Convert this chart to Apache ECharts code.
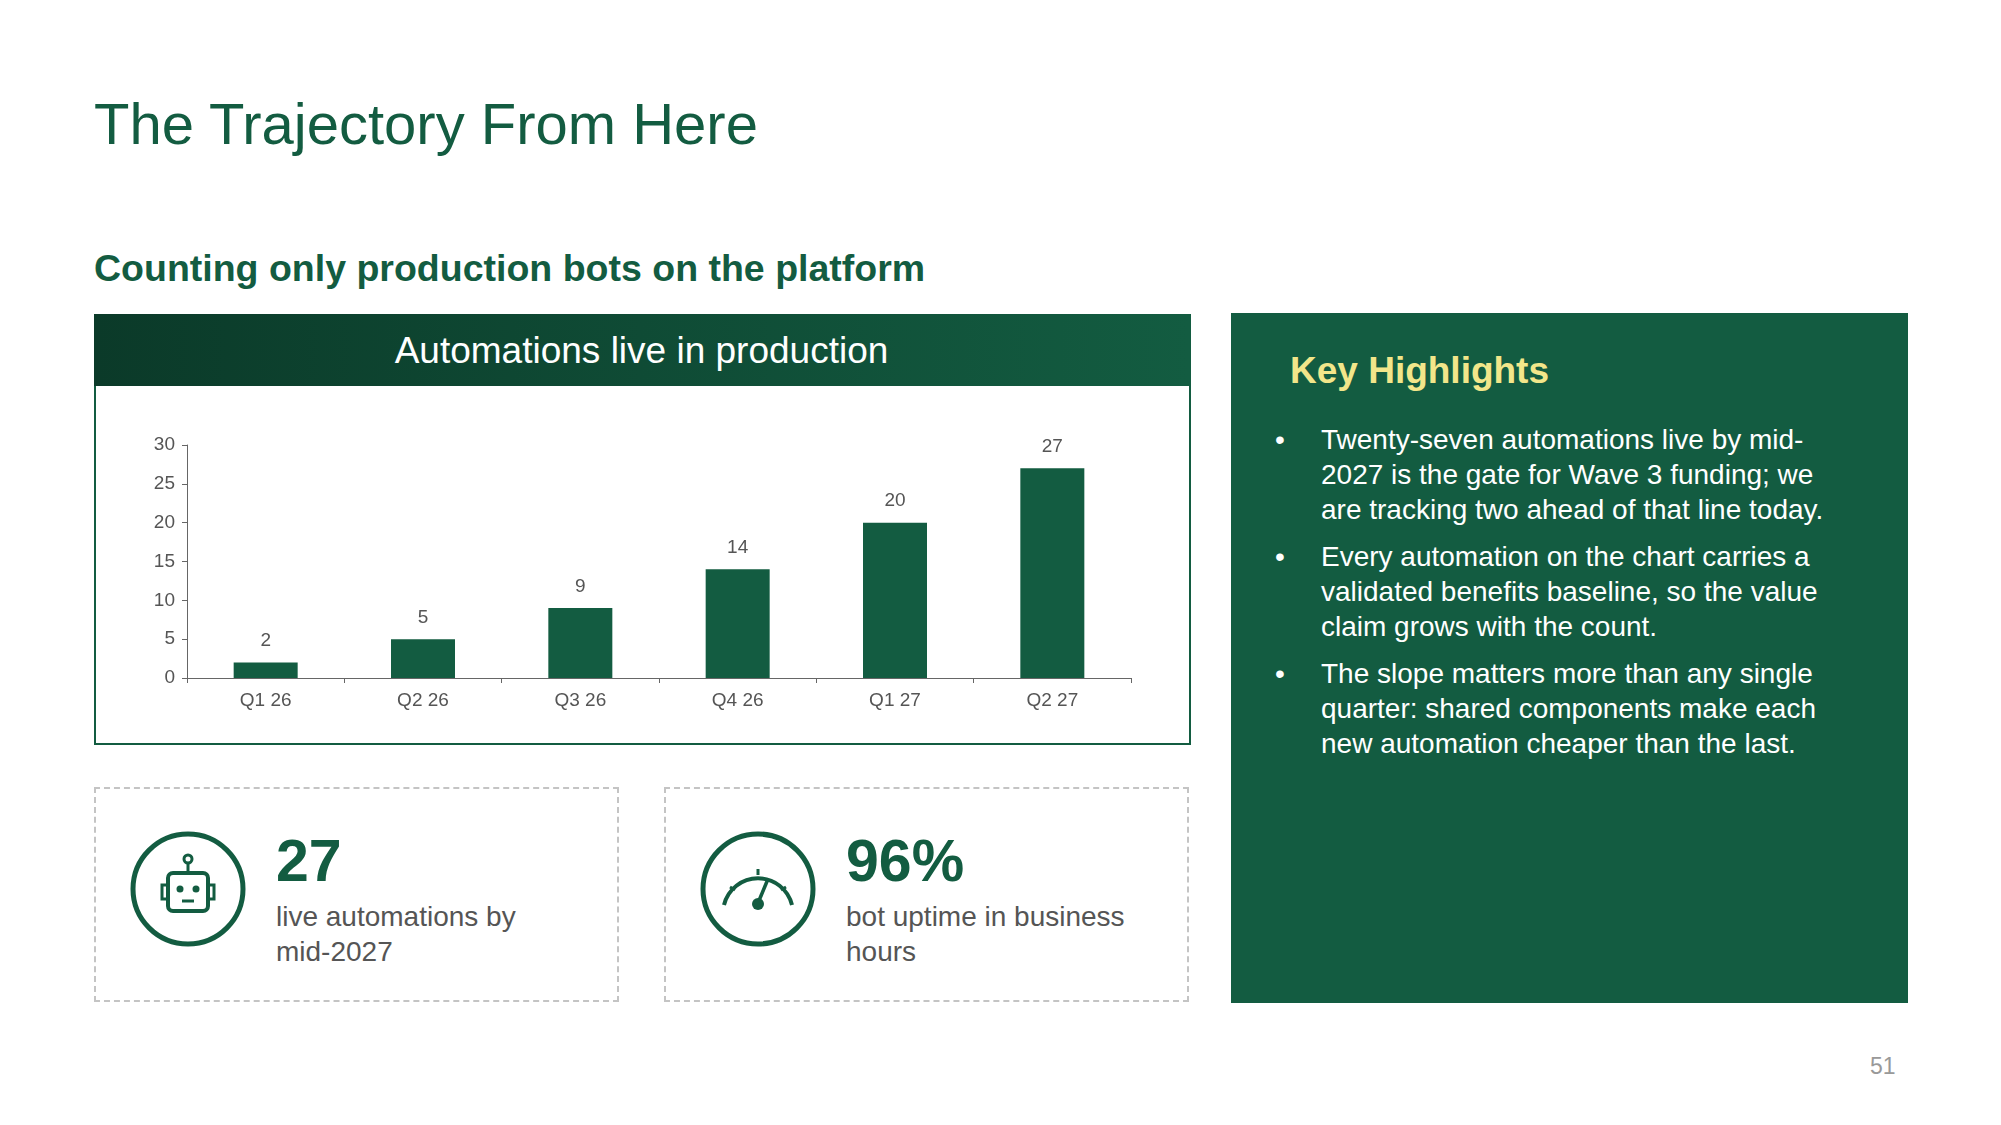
<!DOCTYPE html>
<html><head><meta charset="utf-8">
<script src="https://cdn.jsdelivr.net/npm/echarts@6/dist/echarts.min.js"></script>
<style>
body{margin:0;width:2001px;height:1125px;background:#fff;font-family:"Liberation Sans",Arial,sans-serif;position:relative;overflow:hidden}
.a{position:absolute}
#title{left:94px;top:90px;font-size:58px;color:#135c41}
#sub{left:94px;top:247px;font-size:37.5px;font-weight:bold;color:#135c41}
#box{left:94px;top:314px;width:1093px;height:429px;border:2px solid #135c41;border-top:none}
#hdr{left:94px;top:314px;width:1095px;height:72px;background:linear-gradient(90deg,#0b3a29,#135c41);color:#fff;font-size:37px;text-align:center;line-height:74px}
#chart{left:94px;top:386px;width:1095px;height:359px}
.card{border:2px dashed #c4c4c4;width:521px;height:211px;top:787px}
.big{font-size:59px;font-weight:bold;color:#135c41;position:absolute;left:180px;top:38px}
.desc{font-size:28px;color:#555;position:absolute;left:180px;top:110px;line-height:35px;width:290px}
.icon{position:absolute;left:32px;top:40px}
#panel{left:1231px;top:313px;width:677px;height:690px;background:#135c41}
#kh{left:59px;top:37px;font-size:37px;font-weight:bold;color:#f2e68a;position:absolute}
ul{position:absolute;left:90px;top:109px;margin:0;padding:0;width:540px;color:#fff;font-size:28px;line-height:35px;list-style:none}
li{margin-bottom:12px;position:relative}
li::before{content:"•";position:absolute;left:-46px;top:0}
#pn{left:1870px;top:1053px;font-size:23px;color:#999}
</style></head><body>
<div class="a" id="title">The Trajectory From Here</div>
<div class="a" id="sub">Counting only production bots on the platform</div>
<div class="a" id="box"></div>
<div class="a" id="hdr">Automations live in production</div>
<div class="a" id="chart"></div>
<div class="a card" style="left:94px">
 <svg class="icon" width="120" height="120" viewBox="0 0 120 120" fill="none" stroke="#135c41" stroke-width="5">
  <circle cx="60" cy="60" r="55"/>
  <circle cx="60" cy="30" r="4" stroke-width="3"/>
  <line x1="60" y1="34" x2="60" y2="44" stroke-width="3"/>
  <rect x="40" y="44" width="40" height="38" rx="5" stroke-width="4"/>
  <rect x="34" y="56" width="6" height="14" stroke-width="3"/>
  <rect x="80" y="56" width="6" height="14" stroke-width="3"/>
  <circle cx="52" cy="60" r="3.5" fill="#135c41" stroke="none"/>
  <circle cx="68" cy="60" r="3.5" fill="#135c41" stroke="none"/>
  <line x1="54" y1="72" x2="66" y2="72" stroke-width="3"/>
 </svg>
 <div class="big">27</div>
 <div class="desc">live automations by mid-2027</div>
</div>
<div class="a card" style="left:664px">
 <svg class="icon" width="120" height="120" viewBox="0 0 120 120" fill="none" stroke="#135c41" stroke-width="5">
  <circle cx="60" cy="60" r="55"/>
  <path d="M26 76 A35 35 0 0 1 94 76" stroke-width="4"/>
  <line x1="60" y1="40" x2="60" y2="46" stroke-width="3"/>
  <line x1="32" y1="58" x2="37" y2="61" stroke-width="3"/>
  <line x1="88" y1="58" x2="83" y2="61" stroke-width="3"/>
  <line x1="60" y1="74" x2="70" y2="50" stroke-width="3.5"/>
  <circle cx="60" cy="75" r="6" fill="#135c41" stroke="none"/>
 </svg>
 <div class="big">96%</div>
 <div class="desc">bot uptime in business hours</div>
</div>
<div class="a" id="panel">
 <div id="kh">Key Highlights</div>
 <ul>
  <li>Twenty-seven automations live by mid-2027 is the gate for Wave 3 funding; we are tracking two ahead of that line today.</li>
  <li>Every automation on the chart carries a validated benefits baseline, so the value claim grows with the count.</li>
  <li>The slope matters more than any single quarter: shared components make each new automation cheaper than the last.</li>
 </ul>
</div>
<div class="a" id="pn">51</div>
<script>
const categories=["Q1 26","Q2 26","Q3 26","Q4 26","Q1 27","Q2 27"];
const values=[2,5,9,14,20,27];
const yTicks={min:0,max:30,interval:5};
const c=echarts.init(document.getElementById('chart'));
c.setOption({
 animation:false,
 textStyle:{fontFamily:'"Liberation Sans",Arial,sans-serif'},
 grid:{left:93,right:58,top:59,bottom:67},
 xAxis:{type:'category',data:categories,axisLine:{lineStyle:{color:'#666'}},axisTick:{show:true,lineStyle:{color:'#666'}},
  axisLabel:{color:'#555',fontSize:19,margin:13}},
 yAxis:{type:'value',min:yTicks.min,max:yTicks.max,interval:yTicks.interval,splitLine:{show:false},
  axisLine:{show:true,lineStyle:{color:'#666'}},axisTick:{show:true,lineStyle:{color:'#666'}},
  axisLabel:{color:'#555',fontSize:19,margin:12}},
 series:[{type:'bar',data:values,barWidth:64,itemStyle:{color:'#135c41'},
  label:{show:true,position:'top',color:'#555',fontSize:19,distance:12}}]
});
</script>
</body></html>
